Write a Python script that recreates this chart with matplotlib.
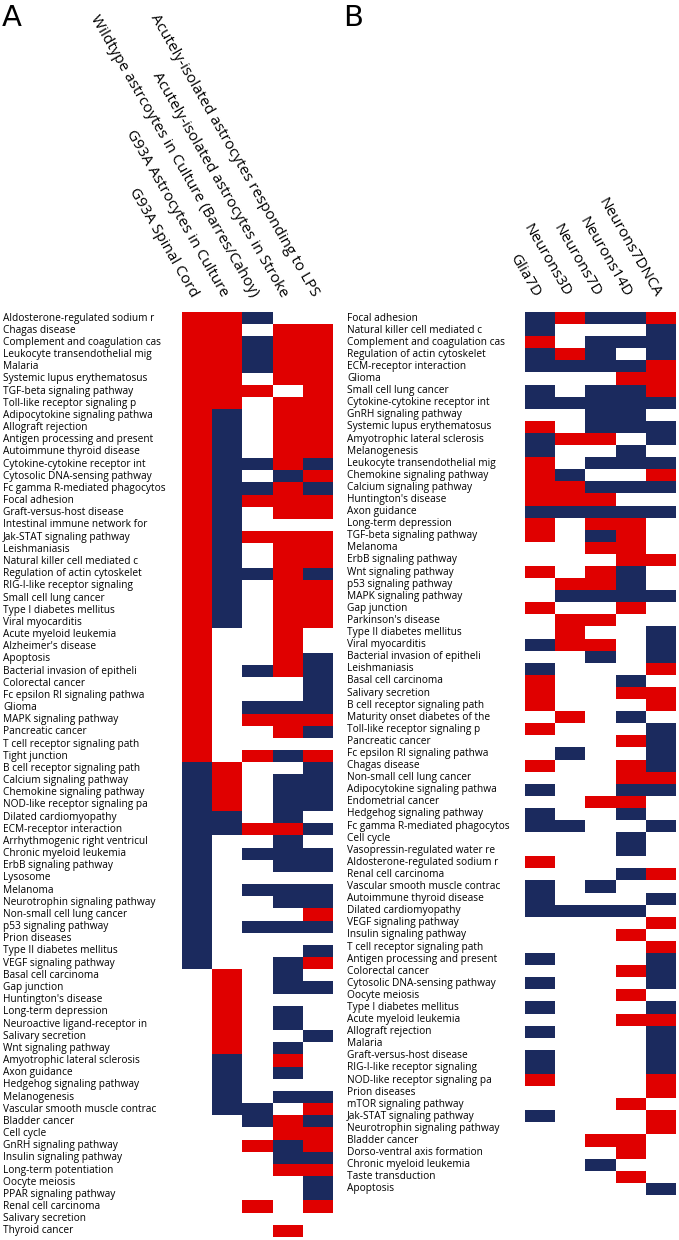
import numpy as np
import matplotlib.pyplot as plt
from matplotlib.colors import ListedColormap
from matplotlib.transforms import blended_transform_factory

# column headers
cols_a = ["G93A Spinal Cord",
          "G93A Astrocytes in Culture",
          "Wildtype astrcoytes in Culture (Barres/Cahoy)",
          "Acutely-isolated astrocytes in Stroke",
          "Acutely-isolated astrocytes responding to LPS"]
cols_b = ["Glia7D", "Neurons3D", "Neurons7D", "Neurons14D", "Neurons7DNCA"]

# panel A pathways and status per column: + up (red), - down (blue), . none
rows_a = ["Aldosterone-regulated sodium r", "Chagas disease", "Complement and coagulation cas",
          "Leukocyte transendothelial mig", "Malaria", "Systemic lupus erythematosus",
          "TGF-beta signaling pathway", "Toll-like receptor signaling p", "Adipocytokine signaling pathwa",
          "Allograft rejection", "Antigen processing and present", "Autoimmune thyroid disease",
          "Cytokine-cytokine receptor int", "Cytosolic DNA-sensing pathway", "Fc gamma R-mediated phagocytos",
          "Focal adhesion", "Graft-versus-host disease", "Intestinal immune network for",
          "Jak-STAT signaling pathway", "Leishmaniasis", "Natural killer cell mediated c",
          "Regulation of actin cytoskelet", "RIG-I-like receptor signaling", "Small cell lung cancer",
          "Type I diabetes mellitus", "Viral myocarditis", "Acute myeloid leukemia",
          "Alzheimer's disease", "Apoptosis", "Bacterial invasion of epitheli",
          "Colorectal cancer", "Fc epsilon RI signaling pathwa", "Glioma",
          "MAPK signaling pathway", "Pancreatic cancer", "T cell receptor signaling path",
          "Tight junction", "B cell receptor signaling path", "Calcium signaling pathway",
          "Chemokine signaling pathway", "NOD-like receptor signaling pa", "Dilated cardiomyopathy",
          "ECM-receptor interaction", "Arrhythmogenic right ventricul", "Chronic myeloid leukemia",
          "ErbB signaling pathway", "Lysosome", "Melanoma",
          "Neurotrophin signaling pathway", "Non-small cell lung cancer", "p53 signaling pathway",
          "Prion diseases", "Type II diabetes mellitus", "VEGF signaling pathway",
          "Basal cell carcinoma", "Gap junction", "Huntington's disease",
          "Long-term depression", "Neuroactive ligand-receptor in", "Salivary secretion",
          "Wnt signaling pathway", "Amyotrophic lateral sclerosis", "Axon guidance",
          "Hedgehog signaling pathway", "Melanogenesis", "Vascular smooth muscle contrac",
          "Bladder cancer", "Cell cycle", "GnRH signaling pathway",
          "Insulin signaling pathway", "Long-term potentiation", "Oocyte meiosis",
          "PPAR signaling pathway", "Renal cell carcinoma", "Salivary secretion",
          "Thyroid cancer"]
vals_a = ["++-..", "++.++", "++-++", "++-++", "++-++", "++.++", "+++.+", "++.++",
          "+-.++", "+-.++", "+-.++", "+-.++", "+--+-", "+-.-+", "+--+-", "+-+++",
          "+-.++", "+-...", "+-+++", "+-.++", "+-.++", "+--+-", "+-.++", "+-.++",
          "+-.++", "+-.++", "+..+.", "+..+.", "+..+-", "+.-+-", "+...-", "+...-",
          "+.---", "+.+++", "+..+-", "+....", "+.+-+", "-+..-", "-+.--", "-+.--",
          "-+.--", "--.-.", "--++-", "-..-.", "-.---", "-..--", "-....", "-.---",
          "-..--", "-...+", "-.---", "-....", "-...-", "-..-+", ".+.-.", ".+.--",
          ".+...", ".+.-.", ".+.-.", ".+..-", ".+.-.", ".-.+.", ".-.-.", ".-...",
          ".-.--", ".--.+", "..-+-", "...++", "..+-+", "...--", "...++", "....-",
          "....-", "..+.+", ".....", "...+."]

# panel B
rows_b = ["Focal adhesion", "Natural killer cell mediated c", "Complement and coagulation cas",
          "Regulation of actin cytoskelet", "ECM-receptor interaction", "Glioma",
          "Small cell lung cancer", "Cytokine-cytokine receptor int", "GnRH signaling pathway",
          "Systemic lupus erythematosus", "Amyotrophic lateral sclerosis", "Melanogenesis",
          "Leukocyte transendothelial mig", "Chemokine signaling pathway", "Calcium signaling pathway",
          "Huntington's disease", "Axon guidance", "Long-term depression",
          "TGF-beta signaling pathway", "Melanoma", "ErbB signaling pathway",
          "Wnt signaling pathway", "p53 signaling pathway", "MAPK signaling pathway",
          "Gap junction", "Parkinson's disease", "Type II diabetes mellitus",
          "Viral myocarditis", "Bacterial invasion of epitheli", "Leishmaniasis",
          "Basal cell carcinoma", "Salivary secretion", "B cell receptor signaling path",
          "Maturity onset diabetes of the", "Toll-like receptor signaling p", "Pancreatic cancer",
          "Fc epsilon RI signaling pathwa", "Chagas disease", "Non-small cell lung cancer",
          "Adipocytokine signaling pathwa", "Endometrial cancer", "Hedgehog signaling pathway",
          "Fc gamma R-mediated phagocytos", "Cell cycle", "Vasopressin-regulated water re",
          "Aldosterone-regulated sodium r", "Renal cell carcinoma", "Vascular smooth muscle contrac",
          "Autoimmune thyroid disease", "Dilated cardiomyopathy", "VEGF signaling pathway",
          "Insulin signaling pathway", "T cell receptor signaling path", "Antigen processing and present",
          "Colorectal cancer", "Cytosolic DNA-sensing pathway", "Oocyte meiosis",
          "Type I diabetes mellitus", "Acute myeloid leukemia", "Allograft rejection",
          "Malaria", "Graft-versus-host disease", "RIG-I-like receptor signaling",
          "NOD-like receptor signaling pa", "Prion diseases", "mTOR signaling pathway",
          "Jak-STAT signaling pathway", "Neurotrophin signaling pathway", "Bladder cancer",
          "Dorso-ventral axis formation", "Chronic myeloid leukemia", "Taste transduction",
          "Apoptosis"]
vals_b = ["-+--+", "-...-", "+.---", "-+-.-", "----+", "...++", "-.--+", "-----",
          "..--.", "+.---", "-++.-", "-..-.", "+.---", "+-..+", "++---", "+++..",
          "-----", "+.++.", "+.-+.", "..++.", "...++", "+.+-.", ".++-.", ".----",
          "+..+.", ".++..", ".+..-", "-++.-", "..-.-", "-...+", "+..-.", "+..++",
          "+...+", ".+.-.", "+...-", "...+-", ".-..-", "+..+-", "...++", "-..--",
          "..++.", "-..-.", "--..-", "...-.", "...-.", "+....", "...-+", "-.-..",
          "-...-", "----.", "....+", "...+.", "....+", "-...-", "...+-", "-...-",
          "...+.", "-...-", "...++", "-...-", "....-", "-...-", "-...-", "+...+",
          "....+", "...+.", "-...+", "....+", "..++.", "...+.", "..-..", "...+.",
          "....-"]

code = {"+": 1, "-": -1, ".": 0}
mat_a = np.array([[code[c] for c in r] for r in vals_a])
mat_b = np.array([[code[c] for c in r] for r in vals_b])

cmap = ListedColormap(["#1b2a5e", "#ffffff", "#e00000"])
W, H = 679, 1240
label_font = "Open Sans"

fig = plt.figure(figsize=(W / 100, H / 100), dpi=100)

def panel(rect, mat, rows, cols, label_x, letter, letter_x):
    ax = fig.add_axes(rect)
    ax.imshow(mat, cmap=cmap, vmin=-1, vmax=1, aspect="auto", interpolation="nearest")
    ax.axis("off")
    tr = blended_transform_factory(fig.transFigure, ax.transData)
    for i, name in enumerate(rows):
        ax.text(label_x / W, i, name, transform=tr, ha="left", va="center",
                fontsize=7.3, family=label_font)
    tc = blended_transform_factory(ax.transData, fig.transFigure)
    for j, name in enumerate(cols):
        ax.text(j - 0.1, 1 - 296 / H, name, transform=tc, ha="right", va="center",
                rotation=-60, rotation_mode="anchor", fontsize=11, family=label_font)
    fig.text(letter_x / W, 1 - 4 / H, letter, fontsize=21, ha="left", va="top")
    return ax

panel([182 / W, 1 - 1237 / H, 151 / W, 925 / H], mat_a, rows_a, cols_a, 3, "A", 2)
panel([525 / W, 1 - 1195 / H, 151 / W, 883 / H], mat_b, rows_b, cols_b, 347, "B", 343)

fig.savefig("out.png", dpi=100)
